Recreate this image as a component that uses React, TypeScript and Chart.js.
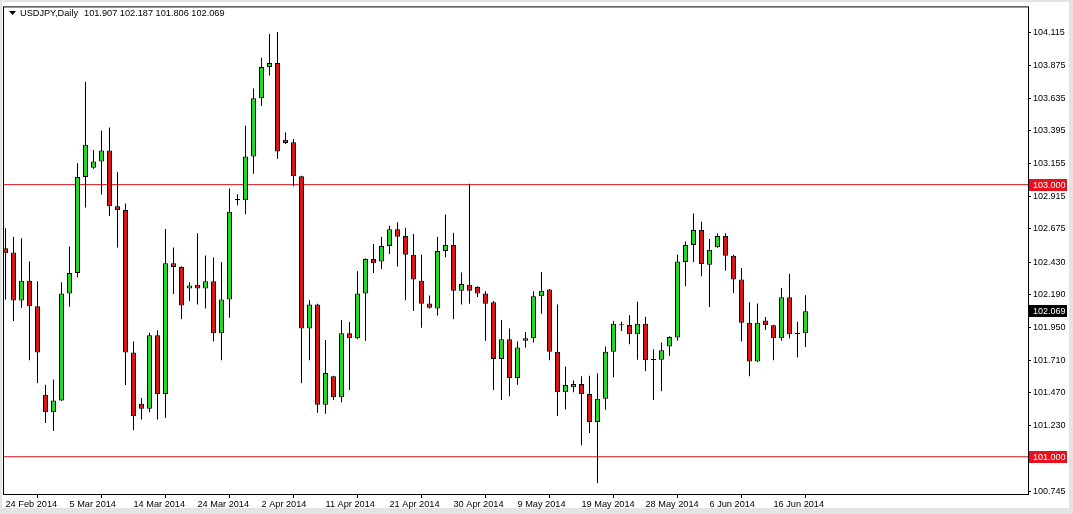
import React, { useEffect, useRef } from 'react';
import { Chart, registerables } from 'chart.js';

Chart.register(...registerables);

const SYMBOL = 'USDJPY,Daily';

// One label every 8 bars (broker feed includes Sunday bars)
const dateLabels = [
  '24 Feb 2014', '5 Mar 2014', '14 Mar 2014', '24 Mar 2014', '2 Apr 2014',
  '11 Apr 2014', '21 Apr 2014', '30 Apr 2014', '9 May 2014', '19 May 2014',
  '28 May 2014', '6 Jun 2014', '16 Jun 2014',
];
const LABEL_STEP = 8;

const opens = [
  102.533, 102.501, 102.148, 102.294, 102.107, 101.455, 101.328, 101.414, 102.200, 102.350,
  103.056, 103.124, 103.170, 103.251, 102.842, 102.813, 101.766, 101.389, 101.353, 101.893,
  101.462, 102.423, 102.394, 102.236, 102.265, 102.236, 102.290, 101.908, 102.156, 102.888,
  102.886, 103.207, 103.635, 103.864, 103.895, 103.331, 103.311, 103.061, 101.942, 102.119,
  101.382, 101.591, 101.438, 101.908, 101.871, 102.200, 102.453, 102.436, 102.550, 102.672,
  102.623, 102.484, 102.294, 102.127, 102.090, 102.513, 102.557, 102.221, 102.265, 102.248,
  102.200, 102.136, 101.718, 101.864, 101.579, 101.852, 101.871, 102.180, 102.229, 101.771,
  101.474, 101.511, 101.535, 101.462, 101.255, 101.426, 101.771, 101.966, 101.968, 101.900,
  101.978, 101.711, 101.713, 101.810, 101.876, 102.431, 102.557, 102.667, 102.411, 102.540,
  102.623, 102.477, 102.302, 101.985, 101.701, 102.002, 101.966, 101.871, 102.173, 101.903,
  101.907,
];
const highs = [
  102.679, 102.618, 102.606, 102.436, 102.290, 101.530, 101.567, 102.282, 102.545, 103.158,
  103.757, 103.255, 103.399, 103.421, 103.092, 102.861, 101.847, 101.431, 101.912, 101.929,
  102.674, 102.538, 102.400, 102.282, 102.642, 102.479, 102.465, 102.431, 102.971, 102.929,
  103.433, 103.706, 103.932, 104.107, 104.122, 103.384, 103.336, 103.065, 102.151, 102.124,
  101.859, 101.595, 102.005, 101.990, 102.363, 102.460, 102.564, 102.618, 102.698, 102.723,
  102.684, 102.637, 102.484, 102.185, 102.618, 102.781, 102.647, 102.355, 103.007, 102.253,
  102.217, 102.144, 102.005, 101.942, 101.847, 101.917, 102.217, 102.358, 102.233, 102.119,
  101.664, 101.560, 101.591, 101.596, 101.613, 101.810, 101.998, 101.993, 102.041, 102.139,
  102.029, 101.791, 101.839, 101.885, 102.484, 102.582, 102.788, 102.727, 102.601, 102.642,
  102.642, 102.484, 102.387, 102.136, 102.127, 102.027, 101.970, 102.241, 102.345, 101.993,
  102.187,
];
const lows = [
  102.156, 101.998, 102.095, 101.710, 101.540, 101.248, 101.190, 101.410, 102.102, 102.319,
  102.832, 103.117, 102.927, 102.769, 102.538, 101.528, 101.195, 101.273, 101.328, 101.273,
  101.285, 102.197, 102.010, 102.144, 102.119, 102.090, 101.847, 101.710, 102.022, 102.849,
  102.783, 103.080, 103.579, 103.803, 103.190, 103.299, 102.988, 101.540, 101.710, 101.324,
  101.316, 101.418, 101.401, 101.491, 101.864, 101.852, 102.350, 102.380, 102.491, 102.399,
  102.151, 102.071, 101.949, 102.090, 102.039, 102.467, 102.010, 102.119, 102.124, 102.175,
  101.852, 101.491, 101.418, 101.445, 101.530, 101.803, 101.839, 102.051, 101.710, 101.299,
  101.348, 101.474, 101.085, 101.175, 100.805, 101.346, 101.584, 101.925, 101.827, 101.713,
  101.628, 101.418, 101.482, 101.742, 101.852, 102.253, 102.431, 102.326, 102.100, 102.537,
  102.367, 102.204, 101.847, 101.591, 101.697, 101.932, 101.710, 101.852, 101.871, 101.730,
  101.806,
];
const closes = [
  102.496, 102.148, 102.294, 102.107, 101.766, 101.328, 101.414, 102.200, 102.350, 103.056,
  103.294, 103.170, 103.251, 102.842, 102.813, 101.766, 101.297, 101.353, 101.893, 101.462,
  102.423, 102.394, 102.112, 102.258, 102.236, 102.290, 101.908, 102.156, 102.800, 102.892,
  103.207, 103.635, 103.864, 103.895, 103.243, 103.307, 103.061, 101.942, 102.119, 101.382,
  101.616, 101.438, 101.908, 101.871, 102.200, 102.453, 102.423, 102.550, 102.672, 102.618,
  102.484, 102.302, 102.124, 102.095, 102.513, 102.557, 102.221, 102.270, 102.221, 102.200,
  102.124, 101.718, 101.864, 101.579, 101.803, 101.871, 102.180, 102.221, 101.771, 101.474,
  101.528, 101.535, 101.462, 101.255, 101.426, 101.771, 101.978, 101.969, 101.900, 101.978,
  101.710, 101.714, 101.783, 101.881, 102.436, 102.557, 102.667, 102.416, 102.521, 102.623,
  102.477, 102.302, 101.985, 101.701, 101.985, 101.966, 101.871, 102.173, 101.900, 101.906,
  102.069,
];

const priceTicks = [
  104.115, 103.875, 103.635, 103.395, 103.155, 102.915, 102.675, 102.43,
  102.19, 101.95, 101.71, 101.47, 101.23, 100.745,
];
const levelLines = [103.0, 101.0];

const Y_MAX = 104.30292;
const Y_MIN = 100.72628;
const X_MIN = -0.1875;
const X_MAX = 127.8125;

const W = 1073;
const H = 514;
const BULL = '#22dc22';
const BEAR = '#dc1414';
const LEVEL = '#d0101e';
const LEVEL_BOX = '#e8101c';
const FONT = "'Liberation Sans', Arial, sans-serif";

export default function App() {
  const ref = useRef<HTMLCanvasElement>(null);

  useEffect(() => {
    const canvas = ref.current;
    if (!canvas) return;
    const n = opens.length;
    const idx = Array.from({ length: n }, (_, i) => i);
    const last = n - 1;

    const wicks = idx.map((i) => ({ x: i, y: [lows[i], highs[i]] }));
    const bodies = idx.map((i) => ({
      x: i,
      y: [Math.min(opens[i], closes[i]), Math.max(opens[i], closes[i])],
    }));
    const bodyColors = idx.map((i) => (closes[i] >= opens[i] ? BULL : BEAR));

    const framePlugin = {
      id: 'mtFrame',
      beforeDraw(chart: any) {
        const { ctx } = chart;
        ctx.save();
        ctx.fillStyle = '#e3e3e3';
        ctx.fillRect(0, 0, W, H);
        ctx.fillStyle = '#ffffff';
        ctx.fillRect(2, 2, 1067, 506);
        ctx.restore();
      },
      afterDraw(chart: any) {
        const { ctx, chartArea: a, scales } = chart;
        const ys = scales.y;
        ctx.save();
        ctx.strokeStyle = '#000';
        ctx.lineWidth = 1;
        ctx.strokeRect(a.left - 0.5, a.top - 0.5, a.right - a.left + 1, a.bottom - a.top + 1);

        const box = (v: number, bg: string) => {
          const py = ys.getPixelForValue(v);
          ctx.fillStyle = bg;
          ctx.fillRect(a.right + 1, Math.round(py) - 6, 38, 12);
          ctx.fillStyle = '#fff';
          ctx.font = `9px ${FONT}`;
          ctx.textBaseline = 'middle';
          ctx.textAlign = 'left';
          ctx.fillText(v.toFixed(3), a.right + 5, Math.round(py) + 0.5);
        };
        levelLines.forEach((v) => box(v, LEVEL_BOX));
        box(closes[last], '#000');

        ctx.fillStyle = '#000';
        ctx.beginPath();
        ctx.moveTo(9, 11);
        ctx.lineTo(16, 11);
        ctx.lineTo(12.5, 15);
        ctx.closePath();
        ctx.fill();
        ctx.font = `9.2px ${FONT}`;
        ctx.textBaseline = 'middle';
        ctx.textAlign = 'left';
        ctx.fillText(SYMBOL, 20, 13.5);
        const w = ctx.measureText(SYMBOL).width;
        ctx.fillText(
          [opens[last], highs[last], lows[last], closes[last]].map((v) => v.toFixed(3)).join(' '),
          20 + w + 6,
          13.5
        );
        ctx.restore();
      },
    };

    const chart = new Chart(canvas, {
      type: 'bar',
      data: {
        datasets: [
          ...levelLines.map((lv) => ({
            type: 'line' as const,
            data: [
              { x: X_MIN, y: lv },
              { x: X_MAX, y: lv },
            ],
            borderColor: LEVEL,
            borderWidth: 1,
            pointRadius: 0,
            order: 3,
          })),
          {
            type: 'bar' as const,
            data: wicks as any,
            backgroundColor: '#000',
            borderWidth: 0,
            grouped: false,
            maxBarThickness: 1,
            inflateAmount: 0,
            order: 2,
          },
          {
            type: 'bar' as const,
            data: bodies as any,
            backgroundColor: bodyColors,
            borderColor: '#000',
            borderWidth: 1,
            borderSkipped: false,
            grouped: false,
            maxBarThickness: 5,
            minBarLength: 1,
            inflateAmount: 0,
            order: 1,
          },
        ] as any,
      },
      options: {
        responsive: false,
        animation: false,
        events: [],
        layout: { padding: { left: 4, top: 4, right: 0, bottom: 0 } },
        plugins: {
          legend: { display: false },
          tooltip: { enabled: false },
          title: { display: false },
        },
        scales: {
          x: {
            type: 'linear',
            min: X_MIN,
            max: X_MAX,
            offset: false,
            afterBuildTicks: (s: any) => {
              s.ticks = dateLabels.map((_, k) => ({ value: k * LABEL_STEP }));
            },
            afterFit: (s: any) => {
              s.height = 20;
            },
            ticks: {
              autoSkip: false,
              maxRotation: 0,
              minRotation: 0,
              align: 'start',
              padding: 1,
              color: '#000',
              font: { family: FONT, size: 9.2 },
              callback: (v: any) => dateLabels[Math.round(Number(v) / LABEL_STEP)] ?? '',
            },
            grid: { drawOnChartArea: false, drawTicks: true, tickLength: 4, color: '#000' },
            border: { display: true, color: '#000' },
          },
          y: {
            type: 'linear',
            position: 'right',
            min: Y_MIN,
            max: Y_MAX,
            afterBuildTicks: (s: any) => {
              s.ticks = priceTicks.map((v) => ({ value: v }));
            },
            afterFit: (s: any) => {
              s.width = 45;
            },
            ticks: {
              autoSkip: false,
              padding: 2,
              color: '#000',
              font: { family: FONT, size: 9 },
              callback: (v: any) => Number(v).toFixed(3),
            },
            grid: { drawOnChartArea: false, drawTicks: true, tickLength: 3, color: '#000' },
            border: { display: true, color: '#000' },
          },
        },
      } as any,
      plugins: [framePlugin],
    });

    return () => chart.destroy();
  }, []);

  return (
    <div style={{ position: 'fixed', left: 0, top: 0, width: W, height: H }}>
      <canvas ref={ref} width={W} height={H} style={{ display: 'block', width: W, height: H }} />
    </div>
  );
}
